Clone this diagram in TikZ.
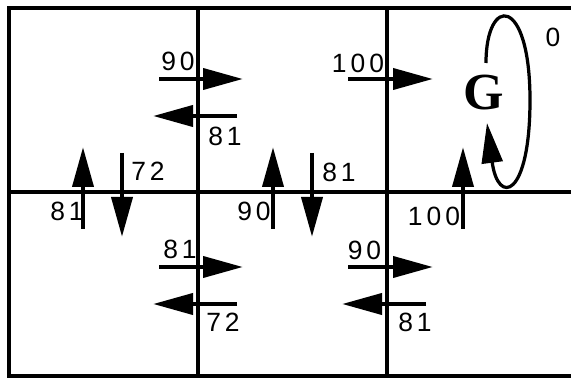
\documentclass[tikz,border=0pt]{standalone}
\usepackage{fontspec}
\setmainfont{Liberation Sans}
\newfontfamily\goalfont{Liberation Serif}
\newfontfamily\qfont[LetterSpace=15]{Liberation Sans}
\usetikzlibrary{arrows.meta}
\tikzset{
  wall/.style={line width=3.2pt},
  move/.style={line width=3.2pt, -{Triangle[length=10mm, width=5.2mm]}},
  selfloop/.style={line width=2.3pt, -{Triangle[length=10mm, width=5.2mm]}},
  qval/.style={inner sep=0pt, font=\qfont\fontsize{18.8}{20}\selectfont},
}

\begin{document}
\begin{tikzpicture}[x=0.25mm,y=0.25mm]
  \path[use as bounding box] (0,0) rectangle (571,378);
  \fill[white] (0,0) rectangle (571,378);

  % Grid of six cells
  \draw[wall] (571,370) -- (9,370) -- (9,2) -- (571,2);
  \draw[wall] (9,186) -- (571,186);
  \draw[wall] (198,2) -- (198,370);
  \draw[wall] (387,2) -- (387,370);

  % Upper row, moves across the walls
  \draw[move] (159,299) -- (243,299);
  \draw[move] (237,262) -- (153,262);
  \draw[move] (348,299) -- (433,299);
  \node[qval] (qa) at (178,316.5) {90};
  \node[qval] (qb) at (225,242) {81};
  \node[qval] (qc) at (358,314.5) {100};

  % Lower row, moves across the walls
  \draw[move] (159,111) -- (243,111);
  \draw[move] (237,74) -- (153,74);
  \draw[move] (348,111) -- (433,111);
  \draw[move] (426,74) -- (342,74);
  \node[qval] (qd) at (180,129) {81};
  \node[qval] (qe) at (223,55.5) {72};
  \node[qval] (qf) at (364.5,128) {90};
  \node[qval] (qg) at (415,55.5) {81};

  % Moves up and down between the rows
  \draw[move] (83,149) -- (83,231);
  \draw[move] (122,225) -- (122,141);
  \draw[move] (273,149) -- (273,231);
  \draw[move] (312,225) -- (312,141);
  \draw[move] (463,149) -- (463,231);
  \node[qval] (qh) at (67,166.5) {81};
  \node[qval] (qi) at (148,207) {72};
  \node[qval] (qj) at (254,166.5) {90};
  \node[qval] (qk) at (339,205.5) {81};
  \node[qval] (ql) at (434,162) {100};

  % Goal cell and its self loop
  \node[inner sep=0pt, font=\goalfont\bfseries\fontsize{37}{40}\selectfont] (goal) at (484,285.5) {G};
  \draw[selfloop] (486,315) .. controls (486,383) and (530,383) .. (530,278)
    .. controls (530,180) and (498,172) .. (487,255);
  \node[qval] (qz) at (553,341) {0};
\end{tikzpicture}
\end{document}
